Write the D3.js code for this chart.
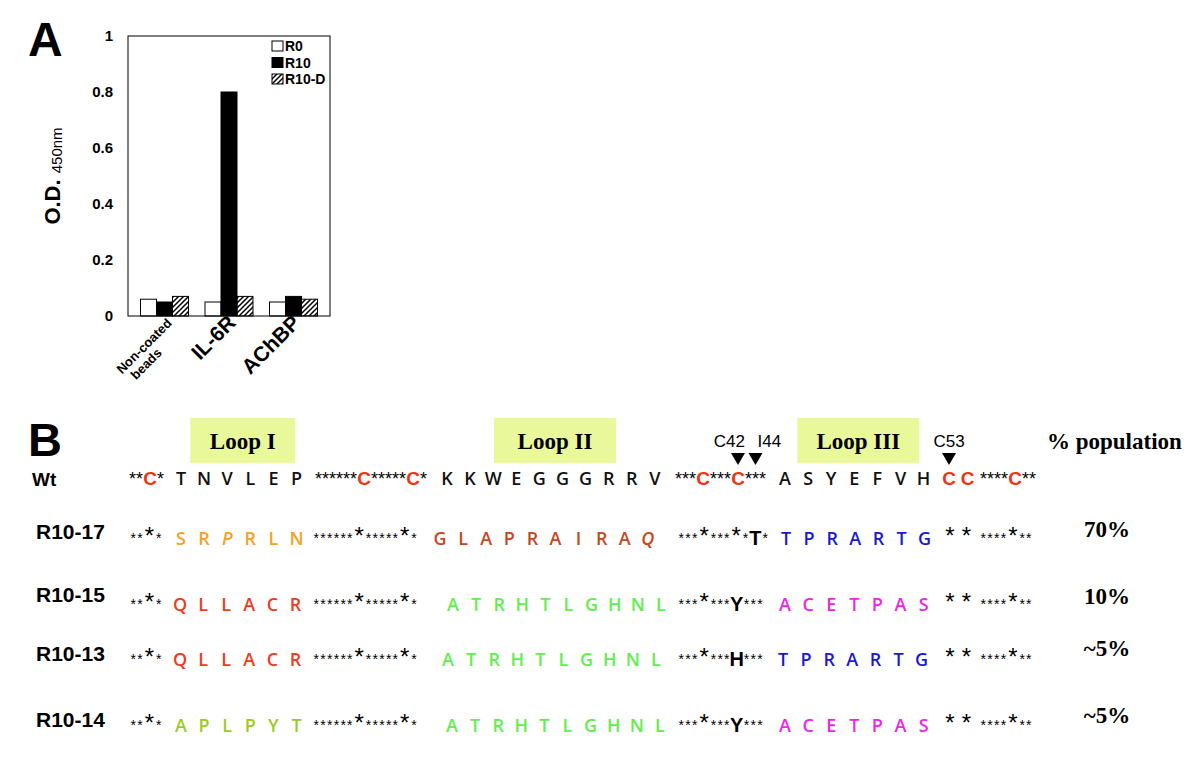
<!DOCTYPE html>
<html>
<head>
<meta charset="utf-8">
<script src="https://cdn.jsdelivr.net/npm/d3@7"></script>
<style>
  body { margin: 0; background: #fff; }
  text { font-family: "Liberation Sans", Arial, sans-serif; }
</style>
</head>
<body>
<div id="fig"></div>
<script>
// ---- Panel A data ----
const categories = ["Non-coated beads", "IL-6R", "AChBP"];
const seriesNames = ["R0", "R10", "R10-D"];
const r0Values = [0.06, 0.05, 0.05];
const r10Values = [0.05, 0.80, 0.07];
const r10dValues = [0.07, 0.07, 0.06];
const yTicks = [0, 0.2, 0.4, 0.6, 0.8, 1];

// ---- Panel B data ----
const variants = ["Wt", "R10-17", "R10-15", "R10-13", "R10-14"];
const loopI = ["TNVLEP", "SRPRLN", "QLLACR", "QLLACR", "APLPYT"];
const loopII = ["KKWEGGGRRV", "GLAPRAIRAQ", "ATRHTLGHNL", "ATRHTLGHNL", "ATRHTLGHNL"];
const loopIII = ["ASYEFVH", "TPRARTG", "ACETPAS", "TPRARTG", "ACETPAS"];
// linker pieces: * conserved residue, C cysteine (Wt), # conserved cysteine (big star)
const linker1 = ["**C*", "**#*", "**#*", "**#*", "**#*"];
const linker2 = ["******C*****C*", "******#*****#*", "******#*****#*", "******#*****#*", "******#*****#*"];
const linker3 = ["***C***C***", "***#***#*T*", "***#***Y***", "***#***H***", "***#***Y***"];
const linker4 = ["C C", "# #", "# #", "# #", "# #"];
const linker5 = ["****C**", "****#**", "****#**", "****#**", "****#**"];
const population = ["", "70%", "10%", "~5%", "~5%"];
const italicResidues = [{ row: 1, loop: 0, pos: 2 }, { row: 1, loop: 1, pos: 9 }];
const loopNames = ["Loop I", "Loop II", "Loop III"];
const markers = [
  { label: "C42", seg: 2, idx: 7, anchor: "end" },
  { label: "I44", seg: 2, idx: 9, anchor: "start" },
  { label: "C53", seg: 3, idx: 0, anchor: "middle" }
];

// colours
const loopIColors = ["#111", "#f5a21f", "#ef3b1d", "#ef3b1d", "#9bcc22"];
const loopIIColors = ["#111", "#c8461c", "#62ee4f", "#62ee4f", "#62ee4f"];
const loopIIIColors = ["#111", "#1818d6", "#ee24ea", "#1818d6", "#ee24ea"];
const cysRed = "#ee3311";

const svg = d3.select("#fig").append("svg")
  .attr("width", 1200)
  .attr("height", 764)
  .style("display", "block");

svg.append("rect").attr("width", 1200).attr("height", 764).attr("fill", "#fff");

// hatch pattern for R10-D
const defs = svg.append("defs");
defs.append("pattern")
  .attr("id", "hatch")
  .attr("patternUnits", "userSpaceOnUse")
  .attr("width", 5)
  .attr("height", 5)
  .append("path")
  .attr("d", "M-1,1 l2,-2 M0,5 l5,-5 M4,6 l2,-2")
  .attr("stroke", "#000")
  .attr("stroke-width", 1.5);

// ================= Panel A =================
const plot = { left: 128, right: 330, top: 36, bottom: 316 };

const x0 = d3.scaleBand()
  .domain(categories)
  .range([plot.left, plot.right])
  .paddingInner(0.256)
  .paddingOuter(0.194);

const x1 = d3.scaleBand()
  .domain(seriesNames)
  .range([0, x0.bandwidth()]);

const y = d3.scaleLinear()
  .domain([0, 1])
  .range([plot.bottom, plot.top]);

const fills = { "R0": "#fff", "R10": "#000", "R10-D": "url(#hatch)" };
const seriesValues = { "R0": r0Values, "R10": r10Values, "R10-D": r10dValues };

const barData = [];
categories.forEach((c, i) => {
  seriesNames.forEach(s => barData.push({ cat: c, series: s, value: seriesValues[s][i] }));
});

svg.append("g")
  .selectAll("rect")
  .data(barData)
  .join("rect")
  .attr("x", d => x0(d.cat) + x1(d.series))
  .attr("y", d => y(d.value))
  .attr("width", x1.bandwidth())
  .attr("height", d => y(0) - y(d.value))
  .attr("fill", d => fills[d.series])
  .attr("stroke", "#000")
  .attr("stroke-width", 1);

// frame
svg.append("rect")
  .attr("x", plot.left)
  .attr("y", plot.top)
  .attr("width", plot.right - plot.left)
  .attr("height", plot.bottom - plot.top)
  .attr("fill", "none")
  .attr("stroke", "#000")
  .attr("stroke-width", 1);

// y axis (labels only)
const yAxis = svg.append("g")
  .attr("transform", `translate(${plot.left},0)`)
  .call(d3.axisLeft(y).tickValues(yTicks).tickSize(0).tickPadding(15)
    .tickFormat(d => d === 0 || d === 1 ? d3.format("d")(d) : d3.format(".1f")(d)));
yAxis.select(".domain").remove();
yAxis.selectAll("text")
  .style("font-family", "'Liberation Sans', Arial, sans-serif")
  .style("font-size", "15px")
  .style("font-weight", "bold")
  .attr("fill", "#000");

// y axis title
const yTitle = svg.append("text")
  .attr("transform", `translate(60,${(plot.top + plot.bottom) / 2}) rotate(-90)`)
  .attr("text-anchor", "middle")
  .attr("fill", "#000");
yTitle.append("tspan").style("font-size", "22px").style("font-weight", "bold").text("O.D. ");
yTitle.append("tspan").style("font-size", "15px").attr("dy", 2).text("450nm");

// x labels
categories.forEach(c => {
  const cx = x0(c) + x0.bandwidth() / 2;
  const t = svg.append("text")
    .attr("transform", `translate(${cx + 8},${plot.bottom + 8}) rotate(-45)`)
    .attr("text-anchor", "end")
    .style("font-weight", "bold")
    .attr("fill", "#000");
  const parts = c === "Non-coated beads" ? ["Non-coated", "beads"] : [c];
  if (parts.length > 1) {
    t.style("font-size", "13px");
    t.append("tspan").attr("x", 0).attr("y", 0).text(parts[0]);
    t.append("tspan").attr("x", -28).attr("y", 14).text(parts[1]);
  } else {
    t.style("font-size", "21px").text(parts[0]);
  }
});

// legend
const legend = svg.append("g").attr("transform", "translate(272,41)");
seriesNames.forEach((s, i) => {
  const row = legend.append("g").attr("transform", `translate(0,${i * 16.5})`);
  row.append("rect")
    .attr("width", 11).attr("height", 10)
    .attr("fill", fills[s])
    .attr("stroke", "#000");
  row.append("text")
    .attr("x", 13).attr("y", 10)
    .style("font-size", "14px")
    .style("font-weight", "bold")
    .text(s);
});

// panel letter
svg.append("text").attr("x", 28).attr("y", 56)
  .style("font-size", "48px").style("font-weight", "bold").text("A");

// ================= Panel B =================
svg.append("text").attr("x", 28).attr("y", 456)
  .style("font-size", "47px").style("font-weight", "bold").text("B");

const rowBase = d3.scaleOrdinal().domain(variants).range([485, 545, 611, 666, 732]);
const labelBase = d3.scaleOrdinal().domain(variants).range([486, 539, 602, 661, 727]);
const popBase = d3.scaleOrdinal().domain(variants).range([0, 537, 604, 656, 723]);

const pitch = 23.1;
const loopStarts = [
  [181, 181, 180, 180, 181],
  [447, 440, 453, 448, 452],
  [785, 786, 785, 783, 785]
];
const linkerStarts = [
  [129, 130], [315, 313], [675, 678], [942, 944], [980, 980]
];
const loops = [loopI, loopII, loopIII];
const loopColors = [loopIColors, loopIIColors, loopIIIColors];
const linkers = [linker1, linker2, linker3, linker4, linker5];

function drawLinker(g, pattern, x0, yb, isWt) {
  let x = x0;
  const pos = [];
  for (const ch of pattern) {
    let adv;
    if (ch === "*") {
      adv = isWt ? 7 : 6.7;
      g.append("text")
        .attr("x", x + adv / 2).attr("y", isWt ? yb : yb - 2)
        .attr("text-anchor", "middle")
        .style("font-size", isWt ? "18px" : "14px")
        .text("*");
    } else if (ch === "C") {
      adv = 14;
      g.append("text")
        .attr("x", x + adv / 2).attr("y", yb)
        .attr("text-anchor", "middle")
        .attr("fill", cysRed)
        .style("font-size", "19px").style("font-weight", "bold")
        .text("C");
    } else if (ch === "#") {
      adv = 12;
      g.append("text")
        .attr("x", x + adv / 2).attr("y", yb - 1)
        .attr("text-anchor", "middle")
        .style("font-size", "24px")
        .text("*");
    } else if (ch === " ") {
      adv = 4.5;
    } else {
      adv = 13;
      g.append("text")
        .attr("x", x + adv / 2).attr("y", yb)
        .attr("text-anchor", "middle")
        .style("font-size", "20px").style("font-weight", "bold")
        .text(ch);
    }
    pos.push(x + adv / 2);
    x += adv;
  }
  return pos;
}

// loop highlight boxes, centred on the Wt loop columns
const boxWidths = [105, 122, 122];
loops.forEach((lp, k) => {
  const colX = d3.scaleLinear().domain([0, 1]).range([loopStarts[k][0], loopStarts[k][0] + pitch]);
  const cx = (colX(0) + colX(lp[0].length - 1)) / 2 + 4;
  svg.append("rect")
    .attr("x", cx - boxWidths[k] / 2)
    .attr("y", 418)
    .attr("width", boxWidths[k])
    .attr("height", 45)
    .attr("fill", "#e8f89b");
  svg.append("text")
    .attr("x", cx).attr("y", 449)
    .attr("text-anchor", "middle")
    .style("font-family", "'Liberation Serif', 'Times New Roman', serif")
    .style("font-size", "23px").style("font-weight", "bold")
    .text(loopNames[k]);
});

svg.append("text")
  .attr("x", 1047).attr("y", 449)
  .style("font-family", "'Liberation Serif', 'Times New Roman', serif")
  .style("font-size", "23px").style("font-weight", "bold")
  .text("% population");

let wtLinkerPos = [];
variants.forEach((v, r) => {
  const g = svg.append("g");
  const isWt = r === 0;
  const yb = rowBase(v);

  g.append("text")
    .attr("x", isWt ? 32 : 36).attr("y", labelBase(v))
    .style("font-size", isWt ? "19px" : "21px").style("font-weight", "bold")
    .text(v);

  const linkPos = linkers.map((lk, k) => drawLinker(g, lk[r], linkerStarts[k][isWt ? 0 : 1], yb, isWt));
  if (isWt) wtLinkerPos = linkPos;

  loops.forEach((lp, k) => {
    const colX = d3.scaleLinear().domain([0, 1]).range([loopStarts[k][r], loopStarts[k][r] + pitch]);
    g.selectAll(null)
      .data(lp[r].split(""))
      .join("text")
      .attr("x", (d, i) => colX(i))
      .attr("y", yb)
      .attr("text-anchor", "middle")
      .attr("fill", loopColors[k][r])
      .style("font-family", "'Open Sans', 'DejaVu Sans', sans-serif")
      .style("font-size", "18px")
      .style("font-weight", 600)
      .style("font-style", (d, i) => italicResidues.some(m => m.row === r && m.loop === k && m.pos === i) ? "italic" : "normal")
      .text(d => d);
  });

  if (population[r]) {
    g.append("text")
      .attr("x", 1107).attr("y", popBase(v))
      .attr("text-anchor", "middle")
      .style("font-family", "'Liberation Serif', 'Times New Roman', serif")
      .style("font-size", "23px").style("font-weight", "bold")
      .text(population[r]);
  }
});

// position markers (triangles + labels)
markers.forEach(m => {
  const mx = wtLinkerPos[m.seg][m.idx];
  svg.append("path")
    .attr("d", d3.line()([[mx - 7, 453], [mx + 7, 453], [mx, 465]]) + "Z")
    .attr("fill", "#000");
  const lx = m.anchor === "end" ? mx + 7 : m.anchor === "start" ? mx + 2 : mx;
  svg.append("text")
    .attr("x", lx).attr("y", 447)
    .attr("text-anchor", m.anchor)
    .style("font-size", "17px")
    .text(m.label);
});
</script>
</body>
</html>
